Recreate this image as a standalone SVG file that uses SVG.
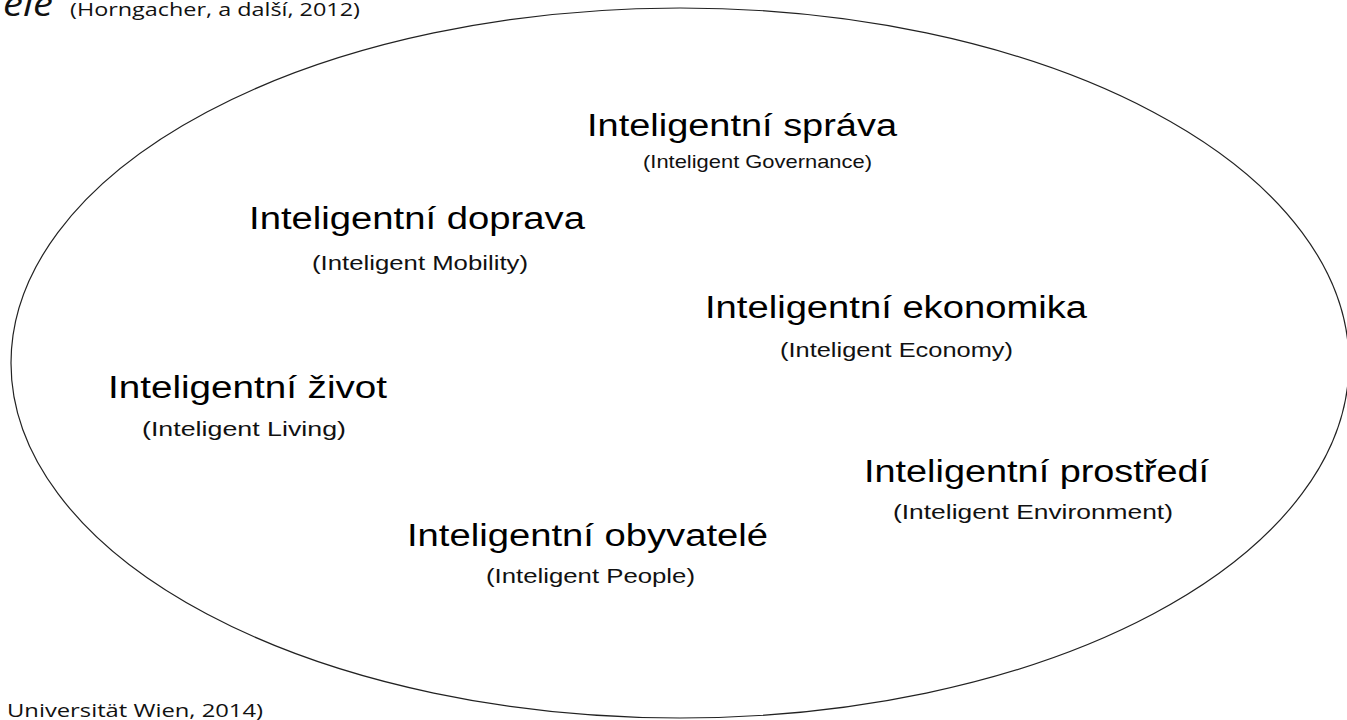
<svg xmlns="http://www.w3.org/2000/svg" width="1347" height="720" viewBox="0 0 1347 720">
  <style>
    .main { font-family: "Liberation Sans", Arial, sans-serif; font-size: 31px; fill: #000; }
    .sub { font-family: "Liberation Sans", Arial, sans-serif; font-size: 21px; fill: #111; }
    .cite { font-family: "Open Sans", "Liberation Sans", sans-serif; font-size: 18px; fill: #111; }
    .big { font-family: "Open Sans", "Liberation Sans", sans-serif; font-size: 34px; font-style: italic; fill: #111; }
  </style>
  <rect x="0" y="0" width="1347" height="720" fill="#ffffff"/>
  <g id="header">
    <text class="big" x="3" y="16" textLength="50" lengthAdjust="spacingAndGlyphs">ele</text>
    <text class="cite" x="70" y="16" textLength="290" lengthAdjust="spacingAndGlyphs">(Horngacher, a další, 2012)</text>
  </g>
  <g id="footer">
    <text class="cite" x="7" y="717" textLength="256" lengthAdjust="spacingAndGlyphs">Universität Wien, 2014)</text>
  </g>
  <g id="smart-city">
    <ellipse cx="680" cy="363" rx="669" ry="355" fill="none" stroke="#222" stroke-width="1.2"/>
  </g>
  <g id="connectors"></g>
  <g id="node-sprava">
    <text class="main" x="587" y="136" textLength="310" lengthAdjust="spacingAndGlyphs">Inteligentní správa</text>
    <text class="sub" x="643" y="168" style="font-size:19px" textLength="229" lengthAdjust="spacingAndGlyphs">(Inteligent Governance)</text>
  </g>
  <g id="node-doprava">
    <text class="main" x="249" y="229" textLength="336" lengthAdjust="spacingAndGlyphs">Inteligentní doprava</text>
    <text class="sub" x="312" y="270" textLength="216" lengthAdjust="spacingAndGlyphs">(Inteligent Mobility)</text>
  </g>
  <g id="node-ekonomika">
    <text class="main" x="705" y="318" textLength="382" lengthAdjust="spacingAndGlyphs">Inteligentní ekonomika</text>
    <text class="sub" x="780" y="357" textLength="233" lengthAdjust="spacingAndGlyphs">(Inteligent Economy)</text>
  </g>
  <g id="node-zivot">
    <text class="main" x="108" y="398" textLength="279" lengthAdjust="spacingAndGlyphs">Inteligentní život</text>
    <text class="sub" x="142" y="436" textLength="204" lengthAdjust="spacingAndGlyphs">(Inteligent Living)</text>
  </g>
  <g id="node-prostredi">
    <text class="main" x="864" y="482" textLength="345" lengthAdjust="spacingAndGlyphs">Inteligentní prostředí</text>
    <text class="sub" x="893" y="519" textLength="280" lengthAdjust="spacingAndGlyphs">(Inteligent Environment)</text>
  </g>
  <g id="node-obyvatele">
    <text class="main" x="407" y="546" textLength="361" lengthAdjust="spacingAndGlyphs">Inteligentní obyvatelé</text>
    <text class="sub" x="486" y="583" textLength="209" lengthAdjust="spacingAndGlyphs">(Inteligent People)</text>
  </g>
</svg>
